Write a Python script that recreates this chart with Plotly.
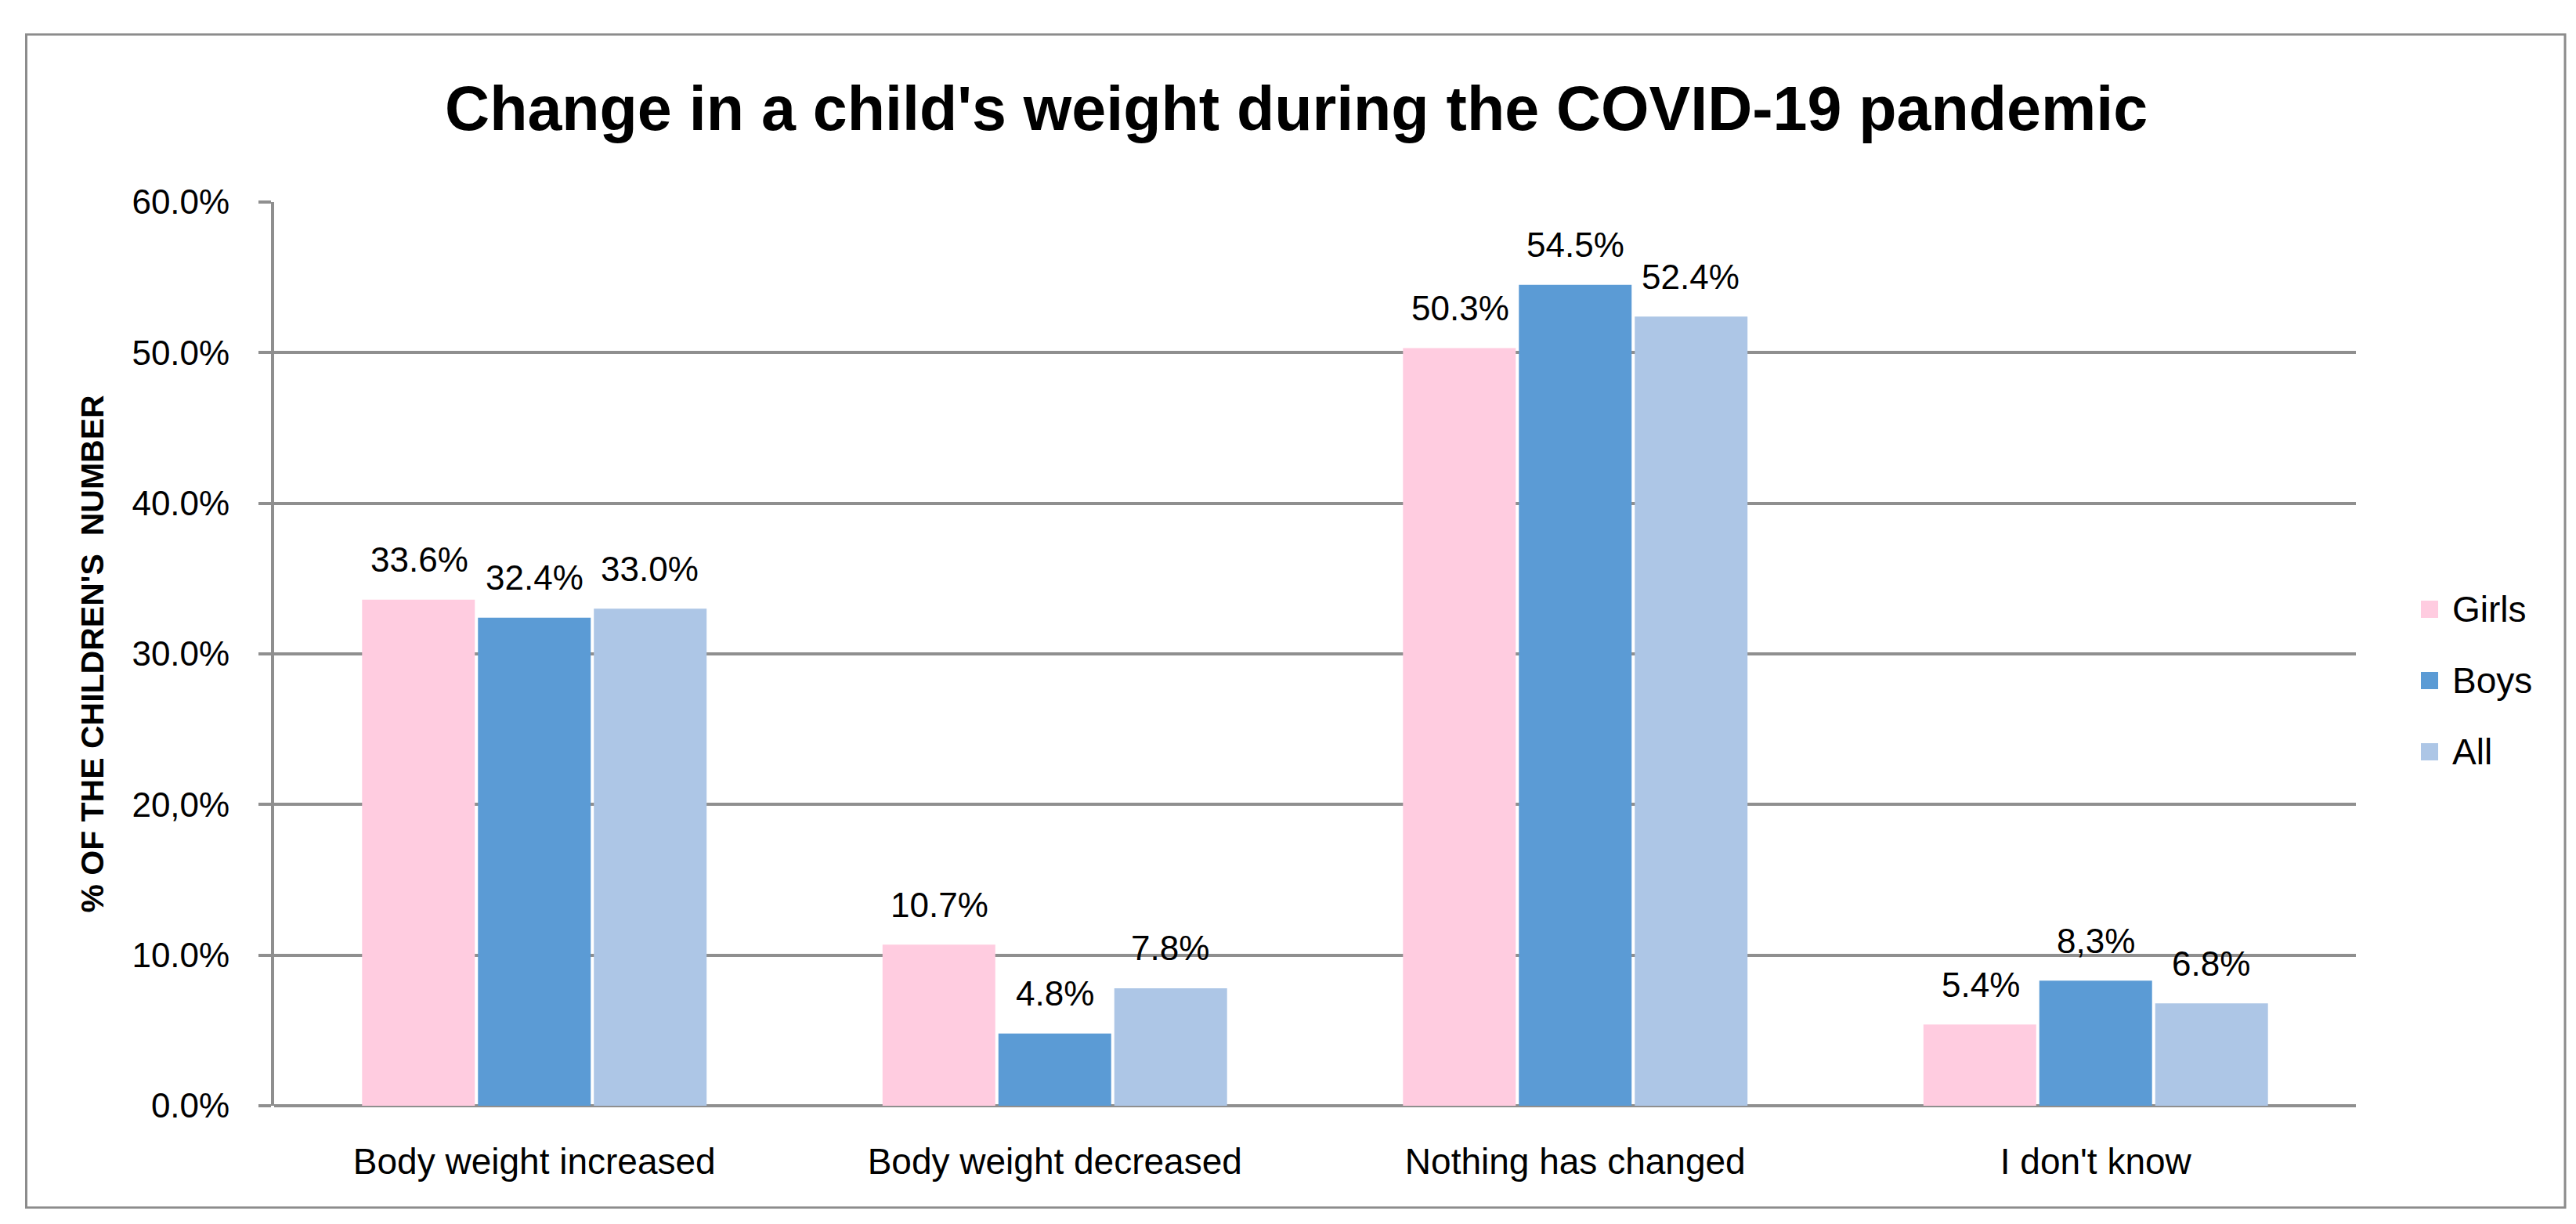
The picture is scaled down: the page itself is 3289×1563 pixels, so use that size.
import plotly.graph_objects as go

categories = ["Body weight increased", "Body weight decreased", "Nothing has changed", "I don't know"]
series_names = ["Girls", "Boys", "All"]
girls = [33.6, 10.7, 50.3, 5.4]
boys = [32.4, 4.8, 54.5, 8.3]
all_children = [33.0, 7.8, 52.4, 6.8]
girls_labels = ["33.6%", "10.7%", "50.3%", "5.4%"]
boys_labels = ["32.4%", "4.8%", "54.5%", "8,3%"]
all_labels = ["33.0%", "7.8%", "52.4%", "6.8%"]
tick_vals = [0, 10, 20, 30, 40, 50, 60]
tick_text = ["0.0%", "10.0%", "20,0%", "30.0%", "40.0%", "50.0%", "60.0%"]

colors = ["#FFCCE0", "#5B9BD5", "#ADC6E6"]
values = [girls, boys, all_children]
labels = [girls_labels, boys_labels, all_labels]
offsets = [-147, 0, 147]

FONT = "Liberation Sans, Arial, sans-serif"
GRID = "#8F8F8F"

W, H = 3289, 1563
ML, MR, MT, MB = 342, 289, 250, 159
PW, PH = W - ML - MR, H - MT - MB


def px(x):
    return (x - ML) / PW


def py(y):
    return (H - MB - y) / PH


fig = go.Figure()
for i, name in enumerate(series_names):
    fig.add_trace(go.Bar(
        x=categories, y=values[i], name=name,
        marker=dict(color=colors[i], line=dict(width=0)),
        showlegend=False,
    ))

annotations = []
for i in range(3):
    for c, v, t in zip(categories, values[i], labels[i]):
        annotations.append(dict(
            x=c, y=v, xref="x", yref="y", text=t, showarrow=False,
            xshift=offsets[i], yshift=51, yanchor="middle", xanchor="center",
            font=dict(family=FONT, size=44, color="#000000"),
        ))

shapes = [dict(type="rect", xref="paper", yref="paper",
               x0=px(25.5), x1=px(3267), y0=py(1534), y1=py(36),
               line=dict(color="#8C8C8C", width=3), fillcolor="rgba(0,0,0,0)", layer="below")]

# legend (swatches + text)
leg_y0, leg_step, sw = 770, 91, 22
for i, name in enumerate(series_names):
    cy = leg_y0 + i * leg_step
    shapes.append(dict(type="rect", xref="paper", yref="paper",
                       x0=px(3083), x1=px(3083 + sw), y0=py(cy + sw / 2), y1=py(cy - sw / 2),
                       line=dict(width=0), fillcolor=colors[i]))
    annotations.append(dict(x=px(3121), y=py(cy), xref="paper", yref="paper", text=name,
                            showarrow=False, xanchor="left", yanchor="middle",
                            font=dict(family=FONT, size=46, color="#000000")))

fig.update_layout(
    width=W, height=H,
    margin=dict(l=ML, r=MR, t=MT, b=MB),
    paper_bgcolor="white", plot_bgcolor="white",
    barmode="group", bargap=0.332, bargroupgap=0.027,
    showlegend=False,
    title=dict(
        text="Change in a child's weight during the COVID-19 pandemic",
        x=0.5008, xanchor="center", xref="container",
        y=1 - 130 / H, yanchor="middle", yref="container",
        font=dict(family=FONT, size=79, color="#000000", weight="bold"),
    ),
    xaxis=dict(
        showgrid=False, showline=False, ticks="",
        tickfont=dict(family=FONT, size=46, color="#000000"),
        ticklabelstandoff=40,
    ),
    yaxis=dict(
        range=[0, 60], tickvals=tick_vals, ticktext=tick_text,
        showgrid=True, gridcolor=GRID, gridwidth=4,
        zeroline=True, zerolinecolor=GRID, zerolinewidth=4,
        showline=True, linecolor=GRID, linewidth=4,
        ticks="outside", ticklen=16, tickwidth=4, tickcolor=GRID,
        tickfont=dict(family=FONT, size=44, color="#000000"),
        ticklabelstandoff=28,
        title=dict(
            text="% OF THE CHILDREN'S\u00a0\u00a0NUMBER",
            font=dict(family=FONT, size=41, color="#000000", weight="bold"),
            standoff=24,
        ),
    ),
    annotations=annotations,
    shapes=shapes,
)

fig.write_html("out.html")
